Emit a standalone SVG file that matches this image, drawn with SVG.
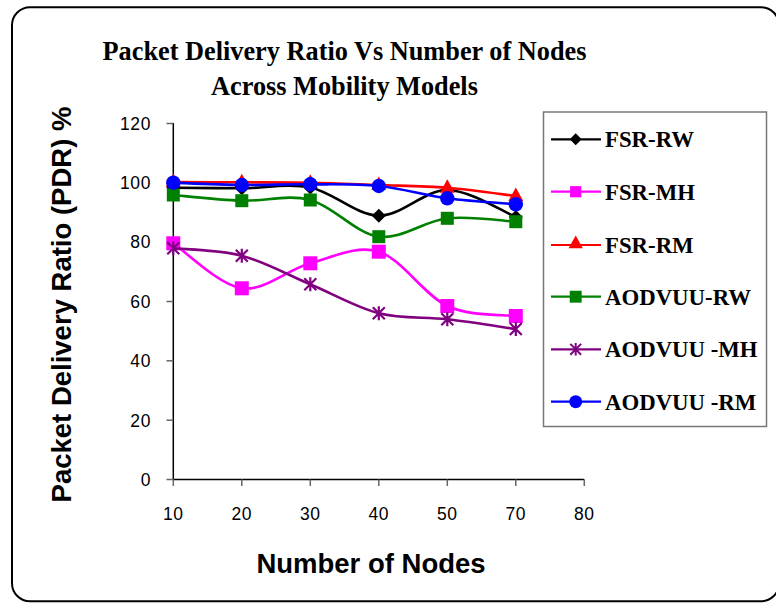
<svg xmlns="http://www.w3.org/2000/svg" xmlns:xlink="http://www.w3.org/1999/xlink" width="776" height="603" viewBox="0 0 776 603">
  <style>
    .title { font-family: "Liberation Serif", "Times New Roman", serif; font-weight: bold; font-size: 26.3px; fill: #000; }
    .axis-title { font-family: "Liberation Sans", Arial, sans-serif; font-weight: bold; font-size: 27.5px; fill: #000; }
    .tick-label { font-family: "Liberation Sans", Arial, sans-serif; font-size: 17.5px; fill: #000; letter-spacing: 0.6px; }
    .legend-label { font-family: "Liberation Serif", "Times New Roman", serif; font-weight: bold; font-size: 22.8px; fill: #000; }
    .axis { stroke: #000; stroke-width: 1.5; fill: none; }
    .tick { stroke: #666; stroke-width: 1.5; }
    .series { fill: none; stroke-width: 2.6; stroke-linejoin: round; stroke-linecap: round; }
  </style>
  <defs>
    <path id="m-diamond" d="M0,-7 L7,0 L0,7 L-7,0 Z"/>
    <rect id="m-square" x="-7" y="-7" width="14" height="14"/>
    <rect id="m-square-s" x="-6.5" y="-6.5" width="13" height="13"/>
    <path id="m-triangle" d="M0,-8.5 L7.5,5 L-7.5,5 Z"/>
    <circle id="m-circle" r="7.2"/>
    <path id="m-star" d="M0,-7 V7 M-6,-6 L6,6 M-6,6 L6,-6" stroke-width="2.2" fill="none"/>
  </defs>

  <!-- outer frame -->
  <rect x="12" y="7.3" width="767" height="594" rx="18" ry="18" fill="#fff" stroke="#000" stroke-width="2"/>

  <!-- chart title -->
  <g id="title">
    <text class="title" x="344.5" y="60" text-anchor="middle">Packet Delivery Ratio Vs Number of Nodes</text>
    <text class="title" x="344.5" y="94.5" text-anchor="middle">Across Mobility Models</text>
  </g>

  <!-- axes -->
  <g id="axes">
    <line class="axis" x1="173.3" y1="123" x2="173.3" y2="479.5"/>
    <line class="axis" x1="173.3" y1="479.5" x2="584.3" y2="479.5"/>
    <g class="tick">
      <line x1="166.5" y1="123.5" x2="173.3" y2="123.5"/>
      <line x1="166.5" y1="182.8" x2="173.3" y2="182.8"/>
      <line x1="166.5" y1="242.1" x2="173.3" y2="242.1"/>
      <line x1="166.5" y1="301.5" x2="173.3" y2="301.5"/>
      <line x1="166.5" y1="360.8" x2="173.3" y2="360.8"/>
      <line x1="166.5" y1="420.2" x2="173.3" y2="420.2"/>
      <line x1="166.5" y1="479.5" x2="173.3" y2="479.5"/>
      <line x1="173.3" y1="479.5" x2="173.3" y2="486"/>
      <line x1="241.8" y1="479.5" x2="241.8" y2="486"/>
      <line x1="310.3" y1="479.5" x2="310.3" y2="486"/>
      <line x1="378.8" y1="479.5" x2="378.8" y2="486"/>
      <line x1="447.3" y1="479.5" x2="447.3" y2="486"/>
      <line x1="515.8" y1="479.5" x2="515.8" y2="486"/>
      <line x1="584.3" y1="479.5" x2="584.3" y2="486"/>
    </g>
    <g class="tick-label" text-anchor="end">
      <text x="151" y="129.8">120</text>
      <text x="151" y="189.1">100</text>
      <text x="151" y="248.4">80</text>
      <text x="151" y="307.8">60</text>
      <text x="151" y="367.1">40</text>
      <text x="151" y="426.5">20</text>
      <text x="151" y="485.8">0</text>
    </g>
    <g class="tick-label" text-anchor="middle">
      <text x="173.3" y="519.5">10</text>
      <text x="241.8" y="519.5">20</text>
      <text x="310.3" y="519.5">30</text>
      <text x="378.8" y="519.5">40</text>
      <text x="447.3" y="519.5">50</text>
      <text x="515.8" y="519.5">70</text>
      <text x="584.3" y="519.5">80</text>
    </g>
    <text class="axis-title" x="371" y="572.5" text-anchor="middle">Number of Nodes</text>
    <text class="axis-title" transform="translate(70.5,304.5) rotate(-90)" text-anchor="middle">Packet Delivery Ratio (PDR) %</text>
  </g>

  <!-- data series -->
  <g id="series">
    <g id="fsr-rw" stroke="#000" fill="#000">
      <path class="series" d="M173.3,187.7 C184.7,187.8 219,188.3 241.8,188.3 C264.6,188.3 287.5,182.9 310.3,187.5 C333.1,192.1 356,215.3 378.8,215.7 C401.6,216.1 424.5,189.8 447.3,190 C470.1,190.2 504.4,212.5 515.8,217"/>
      <g stroke="none">
        <use xlink:href="#m-diamond" x="173.3" y="187.7"/>
        <use xlink:href="#m-diamond" x="241.8" y="188.3"/>
        <use xlink:href="#m-diamond" x="310.3" y="187.5"/>
        <use xlink:href="#m-diamond" x="378.8" y="215.7"/>
        <use xlink:href="#m-diamond" x="447.3" y="190"/>
        <use xlink:href="#m-diamond" x="515.8" y="217"/>
      </g>
    </g>
    <g id="fsr-mh" stroke="#FF00FF" fill="#FF00FF">
      <path class="series" d="M173.3,243.3 C184.7,250.8 219,285 241.8,288.3 C264.6,291.6 287.5,269.4 310.3,263.3 C333.1,257.2 356,244.6 378.8,251.7 C401.6,258.8 424.5,295.3 447.3,306 C470.1,316.7 504.4,314.3 515.8,316"/>
      <g stroke="none">
        <use xlink:href="#m-square" x="173.3" y="243.3"/>
        <use xlink:href="#m-square" x="241.8" y="288.3"/>
        <use xlink:href="#m-square" x="310.3" y="263.3"/>
        <use xlink:href="#m-square" x="378.8" y="251.7"/>
        <use xlink:href="#m-square" x="447.3" y="306"/>
        <use xlink:href="#m-square" x="515.8" y="316"/>
      </g>
    </g>
    <g id="fsr-rm" stroke="#FF0000" fill="#FF0000">
      <path class="series" d="M173.3,182 C184.7,182.05 219,182.2 241.8,182.3 C264.6,182.4 287.5,182.25 310.3,182.7 C333.1,183.15 356,184.2 378.8,185 C401.6,185.8 424.5,185.9 447.3,187.7 C470.1,189.5 504.4,194.6 515.8,196"/>
      <g stroke="none">
        <use xlink:href="#m-triangle" x="173.3" y="182"/>
        <use xlink:href="#m-triangle" x="241.8" y="182.3"/>
        <use xlink:href="#m-triangle" x="310.3" y="182.7"/>
        <use xlink:href="#m-triangle" x="378.8" y="185"/>
        <use xlink:href="#m-triangle" x="447.3" y="187.7"/>
        <use xlink:href="#m-triangle" x="515.8" y="196"/>
      </g>
    </g>
    <g id="aodvuu-rw" stroke="#008000" fill="#008000">
      <path class="series" d="M173.3,195 C184.7,196 219,199.9 241.8,200.7 C264.6,201.5 287.5,194 310.3,200 C333.1,206 356,233.7 378.8,236.7 C401.6,239.75 424.5,220.8 447.3,218.3 C470.1,215.8 504.4,221.1 515.8,221.7"/>
      <g stroke="none">
        <use xlink:href="#m-square-s" x="173.3" y="195"/>
        <use xlink:href="#m-square-s" x="241.8" y="200.7"/>
        <use xlink:href="#m-square-s" x="310.3" y="200"/>
        <use xlink:href="#m-square-s" x="378.8" y="236.7"/>
        <use xlink:href="#m-square-s" x="447.3" y="218.3"/>
        <use xlink:href="#m-square-s" x="515.8" y="221.7"/>
      </g>
    </g>
    <g id="aodvuu-mh" stroke="#800080" fill="#800080">
      <path class="series" d="M173.3,248.3 C184.7,249.5 219,249.7 241.8,255.7 C264.6,261.7 287.5,274.7 310.3,284.3 C333.1,293.9 356,307.5 378.8,313.3 C401.6,319.1 424.5,316.7 447.3,319.3 C470.1,321.9 504.4,327.4 515.8,329"/>
      <use xlink:href="#m-star" x="173.3" y="248.3"/>
      <use xlink:href="#m-star" x="241.8" y="255.7"/>
      <use xlink:href="#m-star" x="310.3" y="284.3"/>
      <use xlink:href="#m-star" x="378.8" y="313.3"/>
      <use xlink:href="#m-star" x="447.3" y="319.3"/>
      <use xlink:href="#m-star" x="515.8" y="329"/>
    </g>
    <g id="aodvuu-rm" stroke="#0000FF" fill="#0000FF">
      <path class="series" d="M173.3,182.7 C184.7,183.1 219,184.7 241.8,185 C264.6,185.3 287.5,184.1 310.3,184.3 C333.1,184.5 356,183.7 378.8,186 C401.6,188.3 424.5,195.25 447.3,198.3 C470.1,201.35 504.4,203.3 515.8,204.3"/>
      <g stroke="none">
        <use xlink:href="#m-circle" x="173.3" y="182.7"/>
        <use xlink:href="#m-circle" x="241.8" y="185"/>
        <use xlink:href="#m-circle" x="310.3" y="184.3"/>
        <use xlink:href="#m-circle" x="378.8" y="186"/>
        <use xlink:href="#m-circle" x="447.3" y="198.3"/>
        <use xlink:href="#m-circle" x="515.8" y="204.3"/>
      </g>
    </g>
  </g>

  <!-- legend -->
  <g id="legend">
    <rect x="543.5" y="112" width="223" height="314.5" fill="#fff" stroke="#777" stroke-width="1.5"/>
    <g id="legend-fsr-rw">
      <line x1="551" y1="139.3" x2="601" y2="139.3" stroke="#000" stroke-width="2.2"/>
      <use xlink:href="#m-diamond" transform="translate(575.7,139.3) scale(0.85)" fill="#000"/>
      <text class="legend-label" x="605" y="147.2">FSR-RW</text>
    </g>
    <g id="legend-fsr-mh">
      <line x1="551" y1="191.7" x2="601" y2="191.7" stroke="#FF00FF" stroke-width="2.2"/>
      <use xlink:href="#m-square" transform="translate(575.7,191.7) scale(0.8)" fill="#FF00FF"/>
      <text class="legend-label" x="605" y="199.6">FSR-MH</text>
    </g>
    <g id="legend-fsr-rm">
      <line x1="551" y1="245" x2="601" y2="245" stroke="#FF0000" stroke-width="2.2"/>
      <use xlink:href="#m-triangle" transform="translate(575.7,243.5) scale(0.95)" fill="#FF0000"/>
      <text class="legend-label" x="605" y="252.9">FSR-RM</text>
    </g>
    <g id="legend-aodvuu-rw">
      <line x1="551" y1="296.7" x2="601" y2="296.7" stroke="#008000" stroke-width="2.2"/>
      <use xlink:href="#m-square" transform="translate(575.7,296.7) scale(0.85)" fill="#008000"/>
      <text class="legend-label" x="605" y="304.6">AODVUU-RW</text>
    </g>
    <g id="legend-aodvuu-mh">
      <line x1="551" y1="349.3" x2="601" y2="349.3" stroke="#800080" stroke-width="2.2"/>
      <use xlink:href="#m-star" transform="translate(575.7,349.3) scale(0.9)" stroke="#800080"/>
      <text class="legend-label" x="605" y="357.2">AODVUU -MH</text>
    </g>
    <g id="legend-aodvuu-rm">
      <line x1="551" y1="401.7" x2="601" y2="401.7" stroke="#0000FF" stroke-width="2.2"/>
      <use xlink:href="#m-circle" transform="translate(575.7,401.7) scale(0.9)" fill="#0000FF"/>
      <text class="legend-label" x="605" y="409.6">AODVUU -RM</text>
    </g>
  </g>
</svg>
